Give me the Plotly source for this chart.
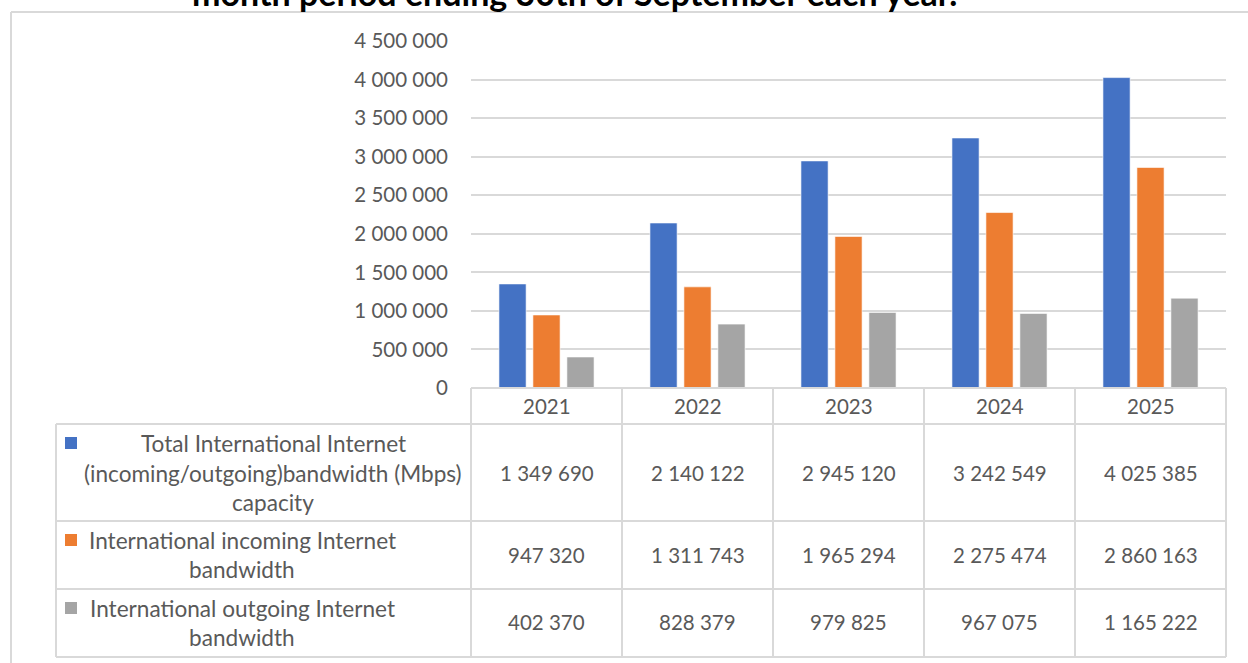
import plotly.graph_objects as go

W, H = 1248, 663

years = ["2021", "2022", "2023", "2024", "2025"]
total_bw = [1349690, 2140122, 2945120, 3242549, 4025385]
incoming_bw = [947320, 1311743, 1965294, 2275474, 2860163]
outgoing_bw = [402370, 828379, 979825, 967075, 1165222]

series_names = [
    "Total International Internet (incoming/outgoing)bandwidth (Mbps) capacity",
    "International incoming Internet bandwidth",
    "International outgoing Internet bandwidth",
]
series_values = [total_bw, incoming_bw, outgoing_bw]
series_colors = ["#4472C4", "#ED7D31", "#A5A5A5"]

# legend-cell text, one entry per printed line
row_label_lines = [
    ["Total International Internet", "(incoming/outgoing)bandwidth (Mbps)", "capacity"],
    ["International incoming Internet", "bandwidth"],
    ["International outgoing Internet", "bandwidth"],
]

TEXT = "#595959"
LINE = "#D9D9D9"
FONT = "Lato"


def px(x):
    return x / W


def py(y):
    return 1 - y / H


# plot area in pixels
PL, PR, PT, PB = 471, 1226, 41, 388

fig = go.Figure()
for name, vals, col in zip(series_names, series_values, series_colors):
    fig.add_trace(go.Bar(
        x=years, y=vals, name=name,
        marker=dict(color=col, line=dict(color="rgba(255,255,255,0.6)", width=1)),
        showlegend=False,
    ))

shapes = []


def hline(y, x0, x1, color=LINE, w=2):
    shapes.append(dict(type="line", xref="paper", yref="paper",
                       x0=px(x0), x1=px(x1), y0=py(y), y1=py(y),
                       line=dict(color=color, width=w)))


def vline(x, y0, y1, color=LINE, w=2):
    shapes.append(dict(type="line", xref="paper", yref="paper",
                       x0=px(x), x1=px(x), y0=py(y0), y1=py(y1),
                       line=dict(color=color, width=w)))


# outer chart frame
hline(12, 11, W + 2)
vline(11, 12, H + 2)

# data table grid
col_edges = [471, 622, 773, 924, 1075, 1226]
row_edges = [424, 521, 589, 657]
TABLE_L = 56
hline(388, col_edges[0], col_edges[-1])
for r in row_edges:
    hline(r, TABLE_L, col_edges[-1])
vline(TABLE_L, row_edges[0], row_edges[-1])
for c in col_edges:
    vline(c, 388, row_edges[-1])

annotations = []


def label(x, y, text, size=20.5, color=TEXT, bold=False, xanchor="center"):
    if bold:
        text = "<b>" + text + "</b>"
    annotations.append(dict(xref="paper", yref="paper", x=px(x), y=py(y),
                            text=text, showarrow=False, xanchor=xanchor,
                            yanchor="middle", font=dict(family=FONT, size=size, color=color)))


# title (runs off the top of the page)
label(574, -7.5, "month period ending 30th of September each year.", size=34, color="#000000", bold=True)

# year header row
col_centers = [(a + b) / 2 for a, b in zip(col_edges[:-1], col_edges[1:])]
for cx, yr in zip(col_centers, years):
    label(cx, 406, yr)

# row labels with colour keys
row_line_y = [[443, 473, 502], [540, 569], [608, 637]]
row_text_x = [273, 242, 242]
key_top = [437, 534, 602]
for i in range(3):
    for txt, yy in zip(row_label_lines[i], row_line_y[i]):
        label(row_text_x[i], yy, txt, size=22.6)
    shapes.append(dict(type="rect", xref="paper", yref="paper",
                       x0=px(65), x1=px(77), y0=py(key_top[i]), y1=py(key_top[i] + 12),
                       fillcolor=series_colors[i], line=dict(width=0)))

# value cells
row_val_y = [473, 555, 622]
for i, vals in enumerate(series_values):
    for cx, v in zip(col_centers, vals):
        label(cx, row_val_y[i], f"{v:,}".replace(",", " "))

fig.update_layout(
    width=W, height=H,
    margin=dict(l=0, r=0, t=0, b=0, autoexpand=False),
    paper_bgcolor="white", plot_bgcolor="white",
    barmode="group", bargap=0.325, bargroupgap=0.2,
    separators=". ",
    shapes=shapes, annotations=annotations,
    xaxis=dict(domain=[px(PL), px(PR)], range=[-0.5, 4.5], showticklabels=False,
               showgrid=False, zeroline=False, showline=False, fixedrange=True,
               automargin=False),
    yaxis=dict(domain=[py(PB), py(PT)], range=[0, 4500000], dtick=500000,
               tickformat=",d", gridcolor=LINE, gridwidth=2, zeroline=False,
               showline=False, ticks="", ticklabelstandoff=22, automargin=False,
               tickfont=dict(family=FONT, size=20.5, color=TEXT)),
    font=dict(family=FONT, color=TEXT),
)

fig.write_html("out.html")
